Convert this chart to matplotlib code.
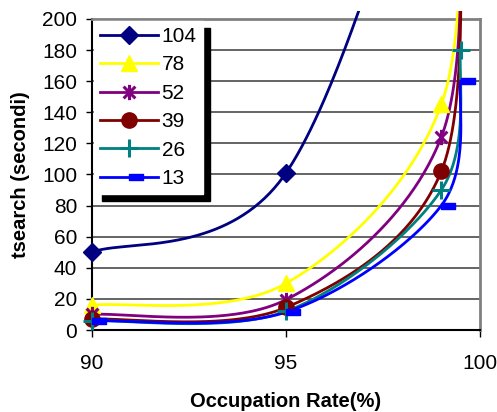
import numpy as np
import matplotlib
matplotlib.use("Agg")
import matplotlib.pyplot as plt
from matplotlib.path import Path
from matplotlib.patches import Rectangle

plt.rcParams["font.family"] = ["Liberation Sans", "DejaVu Sans"]

# occupation rate (%) and tsearch (s) for each series
occupation = [90, 95, 99, 99.5]
series_labels = ["104", "78", "52", "39", "26", "13"]
t104 = [50, 101, 380, 520]
t78 = [16, 30, 145, 340]
t52 = [10, 19.5, 124, 310]
t39 = [7, 14.5, 102, 290]
t26 = [6, 12, 90, 180]
t13 = [6, 11.5, 80, 160]

colors = ["#000080", "#FFFF00", "#800080", "#800000", "#008080", "#0000FF"]

# excel-like markers
star = Path([(-1, -1), (1, 1), (-1, 1), (1, -1), (0, -1.3), (0, 1.3)],
            [Path.MOVETO, Path.LINETO, Path.MOVETO, Path.LINETO, Path.MOVETO, Path.LINETO])
dash = Path([(0, -0.2), (1, -0.2), (1, 0.2), (0, 0.2), (0, -0.2)],
            [Path.MOVETO, Path.LINETO, Path.LINETO, Path.LINETO, Path.CLOSEPOLY])
marker_style = [
    dict(marker="D", ms=9),
    dict(marker="^", ms=11),
    dict(marker=star, ms=11, mew=2.2),
    dict(marker="o", ms=11),
    dict(marker="+", ms=13, mew=2.2),
    dict(marker=dash, ms=20),
]

W, H, DPI = 4.97, 4.12, 100
L, R, B, T = 0.185, 0.966, 0.199, 0.954
sx = W * DPI * (R - L) / 10.0
sy = H * DPI * (T - B) / 200.0


def smooth(xs, ys, n=80):
    # bezier smoothing in pixel space, like the spreadsheet's "smoothed line"
    P = np.column_stack([np.array(xs) * sx, np.array(ys) * sy])
    out = []
    for i in range(len(P) - 1):
        p0 = P[i - 1] if i > 0 else P[i]
        p1, p2 = P[i], P[i + 1]
        p3 = P[i + 2] if i + 2 < len(P) else P[i + 1]
        c1 = p1 + (p2 - p0) / 6
        c2 = p2 - (p3 - p1) / 6
        t = np.linspace(0, 1, n)[:, None]
        seg = (1 - t) ** 3 * p1 + 3 * (1 - t) ** 2 * t * c1 + 3 * (1 - t) * t ** 2 * c2 + t ** 3 * p2
        out.append(seg if i == 0 else seg[1:])
    out = np.vstack(out)
    return out[:, 0] / sx, out[:, 1] / sy


fig = plt.figure(figsize=(W, H), dpi=DPI)
ax = fig.add_axes([L, B, R - L, T - B])

clip = Rectangle((0, -0.05), 1.0, 1.075, transform=ax.transAxes, visible=False)
ax.add_patch(clip)

all_series = [t104, t78, t52, t39, t26, t13]
for ys, lab, col, ms in zip(all_series, series_labels, colors, marker_style):
    xs_s, ys_s = smooth(occupation, ys)
    ln, = ax.plot(xs_s, ys_s, color=col, lw=2.0, zorder=3)
    ln.set_clip_path(clip)
    ax.plot(occupation, ys, linestyle="none", color=col, mec=col, mfc=col,
            clip_on=False, zorder=4, **ms)
    # legend proxy
    ax.plot([], [], color=col, lw=2.0, mec=col, mfc=col, label=lab, **ms)

ax.set_xlim(90, 100)
ax.set_ylim(0, 200)
ax.set_xticks([90, 95, 100])
ax.set_yticks(np.arange(0, 201, 20))
ax.yaxis.grid(True, color="#4a4a4a", lw=1.2)
ax.set_axisbelow(True)
ax.tick_params(axis="y", direction="out", length=4.5, width=1, labelsize=15, pad=6)
ax.tick_params(axis="x", direction="out", length=5, width=1, labelsize=15, pad=12)

for side in ["top", "right"]:
    ax.spines[side].set_color("#808080")
    ax.spines[side].set_linewidth(2)
for side in ["left", "bottom"]:
    ax.spines[side].set_color("black")
    ax.spines[side].set_linewidth(1.5)

ax.set_xlabel("Occupation Rate(%)", fontsize=14.5, fontweight="bold", labelpad=14)
ax.set_ylabel("tsearch (secondi)", fontsize=14.5, fontweight="bold", labelpad=9)

leg = ax.legend(loc="upper left", bbox_to_anchor=(0.005, 0.994), borderaxespad=0,
                frameon=True, fancybox=False, edgecolor="white", facecolor="white",
                framealpha=1, shadow={"color": "black", "alpha": 1, "ox": 5.5, "oy": -5},
                fontsize=15, handlelength=2.8, handletextpad=0.15, labelspacing=0.45,
                borderpad=0.3, numpoints=1)
leg.set_zorder(10)

fig.savefig("out.png", dpi=DPI)
